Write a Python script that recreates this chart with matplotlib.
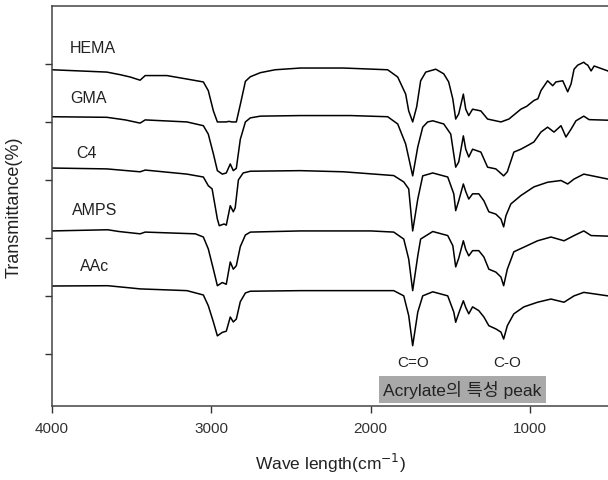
import matplotlib
matplotlib.use("Agg")
import matplotlib.pyplot as plt

plt.rcParams['font.family'] = ['Liberation Sans', 'Noto Sans CJK KR', 'DejaVu Sans']

# spectra: wavenumber (cm-1) and stacked transmittance (a.u.)
hema_wn = [4000, 3656, 3572, 3509, 3447, 3415, 3279, 3153, 3050, 3019, 2987, 2962, 2931, 2906,
           2890, 2870, 2843, 2818, 2786, 2755, 2692, 2600, 2440, 2170, 1893, 1830, 1780, 1761,
           1736, 1711, 1686, 1654, 1591, 1541, 1510, 1484, 1466, 1447, 1418, 1403, 1384, 1360,
           1308, 1266, 1182, 1132, 1057, 1020, 975, 950, 931, 889, 857, 837, 794, 763, 742,
           723, 700, 662, 650, 637, 616, 597, 511]
hema_t = [5.90, 5.86, 5.815, 5.775, 5.72, 5.80, 5.80, 5.74, 5.69, 5.54, 5.19, 5.00, 5.00, 5.00,
          5.01, 5.00, 5.00, 5.30, 5.70, 5.78, 5.85, 5.90, 5.93, 5.93, 5.90, 5.775, 5.48, 5.19,
          5.00, 5.26, 5.71, 5.86, 5.91, 5.83, 5.69, 5.395, 5.05, 5.14, 5.48, 5.22, 5.11, 5.22,
          5.19, 5.05, 5.00, 5.05, 5.22, 5.27, 5.37, 5.40, 5.54, 5.71, 5.625, 5.69, 5.71, 5.52, 5.655,
          5.91, 5.98, 6.03, 6.00, 5.98, 5.88, 5.965, 5.88]

gma_wn = [4000, 3656, 3540, 3447, 3415, 3153, 3050, 3019, 2987, 2962, 2931, 2906, 2881, 2862,
          2843, 2818, 2786, 2755, 2692, 2440, 2126, 1893, 1830, 1780, 1736, 1704, 1673, 1642,
          1610, 1541, 1497, 1466, 1447, 1418, 1403, 1384, 1360, 1308, 1266, 1214, 1165, 1142,
          1101, 1057, 1010, 975, 931, 889, 849, 805, 774, 742, 711, 662, 629, 511]
gma_t = [5.09, 5.08, 5.035, 4.98, 5.035, 5.00, 4.935, 4.79, 4.45, 4.16, 4.10, 4.12, 4.275, 4.16,
         4.20, 4.70, 5.00, 5.07, 5.10, 5.11, 5.11, 5.09, 4.965, 4.62, 4.07, 4.57, 4.91, 5.00,
         5.02, 4.965, 4.79, 4.22, 4.31, 4.76, 4.53, 4.395, 4.53, 4.48, 4.22, 4.19, 4.07, 4.14,
         4.48, 4.53, 4.60, 4.655, 4.825, 4.91, 4.825, 4.935, 4.74, 4.875, 5.02, 5.10, 5.04, 5.03]

c4_wn = [4000, 3656, 3447, 3415, 3153, 3050, 3019, 2995, 2962, 2950, 2920, 2906, 2881, 2862,
         2850, 2830, 2800, 2755, 2440, 2170, 1855, 1792, 1761, 1736, 1704, 1673, 1610, 1516,
         1478, 1466, 1447, 1418, 1403, 1384, 1360, 1321, 1289, 1258, 1214, 1182, 1165, 1151,
         1120, 1057, 975, 889, 805, 763, 723, 662, 511]
c4_t = [4.205, 4.19, 4.14, 4.17, 4.10, 4.05, 3.90, 3.845, 3.325, 3.21, 3.24, 3.22, 3.555, 3.45,
        3.52, 4.00, 4.12, 4.15, 4.16, 4.14, 4.075, 3.965, 3.845, 3.12, 3.67, 4.07, 4.12, 4.05,
        3.76, 3.47, 3.64, 3.93, 3.80, 3.67, 3.76, 3.76, 3.64, 3.45, 3.41, 3.325, 3.19, 3.38,
        3.585, 3.73, 3.88, 3.96, 3.99, 3.93, 4.015, 4.10, 4.015]

amps_wn = [4000, 3650, 3580, 3447, 3415, 3100, 3050, 3019, 2987, 2962, 2931, 2906, 2881, 2862,
           2843, 2818, 2786, 2755, 2440, 2000, 1855, 1792, 1761, 1736, 1704, 1686, 1610, 1516,
           1484, 1466, 1447, 1418, 1403, 1384, 1360, 1321, 1289, 1258, 1214, 1182, 1165, 1142,
           1101, 1038, 952, 868, 786, 723, 662, 616, 511]
amps_t = [3.12, 3.14, 3.11, 3.07, 3.10, 3.07, 3.015, 2.81, 2.46, 2.175, 2.23, 2.20, 2.585, 2.46,
          2.52, 2.85, 3.05, 3.10, 3.12, 3.12, 3.10, 2.98, 2.635, 2.09, 2.69, 2.98, 3.11, 3.04,
          2.865, 2.50, 2.65, 2.95, 2.80, 2.69, 2.78, 2.78, 2.67, 2.46, 2.41, 2.325, 2.175, 2.46,
          2.76, 2.84, 2.95, 3.015, 2.95, 3.04, 3.12, 3.04, 3.03]

aac_wn = [4000, 3650, 3500, 3447, 3153, 3050, 3019, 2987, 2962, 2931, 2906, 2881, 2862, 2843,
          2818, 2786, 2755, 2440, 1855, 1792, 1761, 1736, 1704, 1673, 1610, 1516, 1478, 1466,
          1447, 1418, 1403, 1384, 1360, 1321, 1289, 1258, 1214, 1182, 1165, 1142, 1101, 1038,
          952, 868, 786, 723, 662, 511]
aac_t = [2.17, 2.175, 2.135, 2.12, 2.09, 2.015, 1.83, 1.55, 1.31, 1.37, 1.39, 1.635, 1.55, 1.60,
         1.90, 2.05, 2.08, 2.09, 2.09, 2.00, 1.66, 1.14, 1.72, 2.00, 2.07, 2.00, 1.72, 1.545,
         1.70, 1.915, 1.80, 1.69, 1.81, 1.745, 1.635, 1.485, 1.43, 1.375, 1.255, 1.485, 1.69, 1.81,
         1.89, 1.945, 1.89, 2.00, 2.06, 2.00]

names = ['HEMA', 'GMA', 'C4', 'AMPS', 'AAc']
name_x = [3887, 3887, 3849, 3874, 3824]
name_y = [6.28, 5.43, 4.48, 3.49, 2.52]

x_ticks = [4000, 3000, 2000, 1000]

fig = plt.figure(figsize=(6.08, 4.81), dpi=100)
ax = fig.add_axes([52 / 608, 74 / 481, 556 / 608, 400 / 481])

spectra = [(hema_wn, hema_t), (gma_wn, gma_t), (c4_wn, c4_t), (amps_wn, amps_t), (aac_wn, aac_t)]
for wn, t in spectra:
    ax.plot(wn, t, color='black', linewidth=1.1)

for name, x, y in zip(names, name_x, name_y):
    ax.text(x, y, name, fontsize=11.5, color='#222222', ha='left', va='center')

ax.text(1736, 0.86, 'C=O', fontsize=11, ha='center', va='center', color='#222222')
ax.text(1145, 0.86, 'C-O', fontsize=11, ha='center', va='center', color='#222222')
ax.text(1425, 0.39, 'Acrylate의 특성 peak', fontsize=12.5, ha='center', va='center',
        color='#222222',
        bbox=dict(boxstyle='square,pad=0.25', facecolor='#a9a9a9', edgecolor='none'))

ax.set_xlim(4000, 510)
ax.set_ylim(0.1, 7)
ax.set_xticks(x_ticks)
ax.set_xticklabels([str(v) for v in x_ticks])
ax.set_yticks([1, 2, 3, 4, 5, 6])
ax.set_yticklabels([])
ax.tick_params(direction='out', length=5, width=1, colors='#333333', labelsize=11, pad=6)
ax.spines['right'].set_visible(False)
for s in ['left', 'top', 'bottom']:
    ax.spines[s].set_color('#444444')
    ax.spines[s].set_linewidth(1.1)

ax.set_xlabel('Wave length(cm$^{-1}$)', fontsize=12.5, color='#222222', labelpad=11)
ax.set_ylabel('Transmittance(%)', fontsize=13, color='#222222', labelpad=10)

fig.savefig('out.png', dpi=100)
